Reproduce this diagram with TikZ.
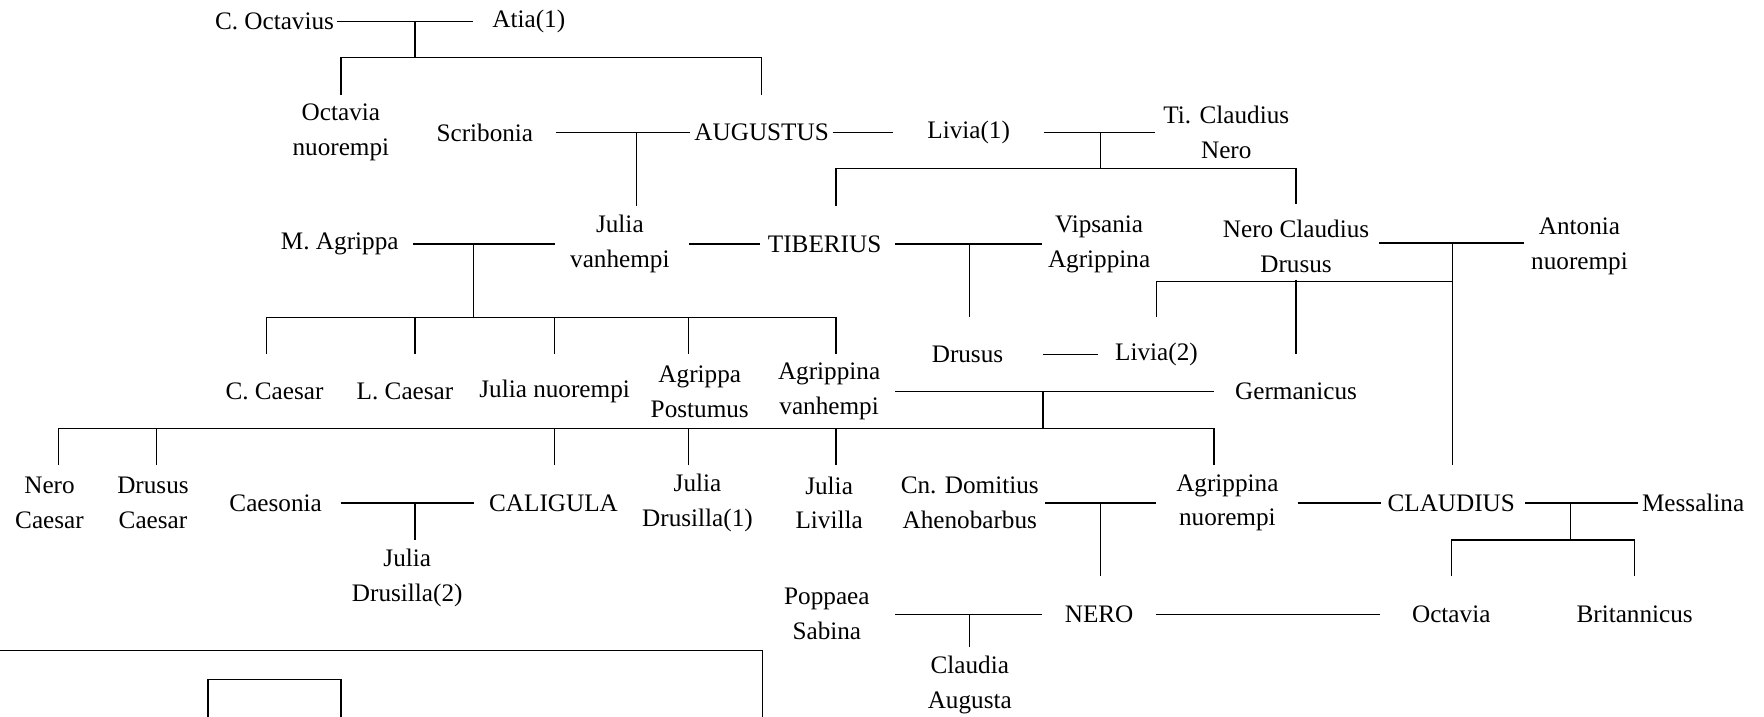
\documentclass[tikz,border=0pt]{standalone}
\usepackage{fontspec}
\setmainfont{Liberation Serif}

\tikzset{
	person/.style={inner sep=0pt, minimum height=33pt, align=center, font=\fontsize{11.2}{15.5}\selectfont},
}

\begin{document}
\begin{tikzpicture}[x=0.5pt, y=-0.5pt, line width=0.65pt]
	\useasboundingbox (0,0) rectangle (1568,637);

	% generation 1 and 2
	\node[person] (octavius) at (244,19) {C. Octavius};
	\node[person] (atia) at (470,19) {Atia(1)};
	\node[person] (octavian) at (303,118) {Octavia\\nuorempi};
	\node[person] (scribonia) at (431,118) {Scribonia};
	\node[person] (augustus) at (677,118) {AUGUSTUS};
	\node[person] (livia) at (861,118) {Livia(1)};
	\node[person] (tcnero) at (1090,118) {Ti. Claudius\\Nero};
	% generation 3
	\node[person] (agrippa) at (302,217) {M. Agrippa};
	\node[person] (juliav) at (551,217) {Julia\\vanhempi};
	\node[person] (tiberius) at (733,217) {TIBERIUS};
	\node[person] (vipsania) at (977,217) {Vipsania\\Agrippina};
	\node[person] (ncdrusus) at (1152,219) {Nero Claudius\\Drusus};
	\node[person] (antonia) at (1404,219) {Antonia\\nuorempi};
	\node[person] (drusus) at (860,315) {Drusus};
	\node[person] (livia2) at (1028,315) {Livia(2)};
	% generation 4
	\node[person] (gcaesar) at (244,348) {C. Caesar};
	\node[person] (lcaesar) at (360,348) {L. Caesar};
	\node[person] (julian) at (493,348) {Julia nuorempi};
	\node[person] (postumus) at (622,348) {Agrippa\\Postumus};
	\node[person] (agrippinav) at (737,348) {Agrippina\\vanhempi};
	\node[person] (germanicus) at (1152,348) {Germanicus};
	% generation 5
	\node[person] (nerocaesar) at (44,447) {Nero\\Caesar};
	\node[person] (drususcaesar) at (136,447) {Drusus\\Caesar};
	\node[person] (caesonia) at (245,447) {Caesonia};
	\node[person] (caligula) at (492,447) {CALIGULA};
	\node[person] (drusilla) at (620,447) {Julia\\Drusilla(1)};
	\node[person] (livilla) at (737,447) {Julia\\Livilla};
	\node[person] (domitius) at (862,447) {Cn. Domitius\\Ahenobarbus};
	\node[person] (agrippinan) at (1091,447) {Agrippina\\nuorempi};
	\node[person] (claudius) at (1290,447) {CLAUDIUS};
	\node[person] (messalina) at (1505,447) {Messalina};
	\node[person] (drusilla2) at (362,514) {Julia\\Drusilla(2)};
	% generation 6
	\node[person] (poppaea) at (735,546) {Poppaea\\Sabina};
	\node[person] (nero) at (977,546) {NERO};
	\node[person] (octavia) at (1290,546) {Octavia};
	\node[person] (britannicus) at (1453,546) {Britannicus};
	\node[person] (claudia) at (862,609) {Claudia\\Augusta};

	% marriages
	\draw[shorten <=1pt, shorten >=8.4pt] (octavius) -- (atia);
	\draw[shorten <=10pt, shorten >=1.5pt] (scribonia) -- (augustus);
	\draw[shorten <=1.5pt, shorten >=15pt] (augustus) -- (livia);
	\draw[shorten <=15pt, shorten >=3.3pt] (livia) -- (tcnero);
	\draw[shorten <=6pt, shorten >=6.5pt] (agrippa) -- (juliav);
	\draw[shorten <=8.5pt, shorten >=3.3pt] (juliav) -- (tiberius);
	\draw[shorten <=5.8pt, shorten >=2.25pt] (tiberius) -- (vipsania);
	\draw[shorten <=4.25pt, shorten >=3pt] (ncdrusus.east |- 0,216) -- (antonia.west |- 0,216);
	\draw[shorten <=17.5pt, shorten >=7.15pt] (drusus) -- (livia2);
	\draw[shorten <=6.25pt, shorten >=9.25pt] (agrippinav) -- (germanicus);
	\draw[shorten <=8pt, shorten >=6.5pt] (caesonia) -- (caligula);
	\draw[shorten <=2.65pt, shorten >=8.75pt] (domitius) -- (agrippinan);
	\draw[shorten <=8.25pt, shorten >=2.7pt] (agrippinan) -- (claudius);
	\draw[shorten <=4.2pt, shorten >=1.65pt] (claudius) -- (messalina);
	\draw[shorten <=11pt, shorten >=9.75pt] (poppaea) -- (nero);
	\draw[shorten <=9.75pt, shorten >=14pt] (nero) -- (octavia);

	% children
	\coordinate (m1) at (369,19); \coordinate (k1) at (369,51);
	\draw (m1) -- (k1);
	\draw (octavian.north) |- (k1) -| (augustus.north);
	\coordinate (m2) at (566,118);
	\draw (m2) -- (m2 |- juliav.north);
	\coordinate (m3) at (978,118); \coordinate (k3) at (978,150);
	\draw (m3) -- (k3);
	\draw ([xshift=5pt]tiberius.north) |- (k3) -| ([yshift=2pt]ncdrusus.north);
	\coordinate (m4) at (421,217); \coordinate (k4) at (421,282);
	\draw (m4) -- (k4);
	\draw ([xshift=-3.5pt]gcaesar.north) |- (k4) -| ([xshift=3pt]agrippinav.north);
	\foreach \kid/\dx in {lcaesar/4.5pt, julian/0pt, postumus/-5pt} {
		\path ([xshift=\dx]\kid.north) coordinate (top);
		\draw (top) -- (top |- k4);
	}
	\coordinate (m5) at (862,217);
	\draw (m5) -- (m5 |- drusus.north);
	\coordinate (m6) at (1291,216); \coordinate (k6) at (1291,250);
	\draw (m6) -- (m6 |- claudius.north);
	\draw (livia2.north) |- (k6);
	\draw ([yshift=2pt]ncdrusus.south) -- (germanicus.north);
	\coordinate (m7) at (927,348); \coordinate (k7) at (927,381);
	\draw (m7) -- (k7);
	\draw ([xshift=4pt]nerocaesar.north) |- (k7) -| ([xshift=-6pt]agrippinan.north);
	\foreach \kid/\dx in {drususcaesar/1.5pt, caligula/0.5pt, drusilla/-4pt, livilla/3pt} {
		\path ([xshift=\dx]\kid.north) coordinate (top);
		\draw (top) -- (top |- k7);
	}
	\coordinate (m8) at (369,447);
	\draw (m8) -- (m8 |- drusilla2.north);
	\coordinate (m9) at (978,447);
	\draw (m9) -- (m9 |- nero.north);
	\coordinate (m10) at (1396,447); \coordinate (k10) at (1396,480);
	\draw (m10) -- (k10);
	\draw (octavia.north) |- (k10) -| (britannicus.north);
	\coordinate (m11) at (862,546);
	\draw (m11) -- (m11 |- claudia.north);

	% next sheet
	\draw (0,578) -| (678,637);
	\draw (185,637) |- (303,604) -- (303,637);
\end{tikzpicture}
\end{document}
